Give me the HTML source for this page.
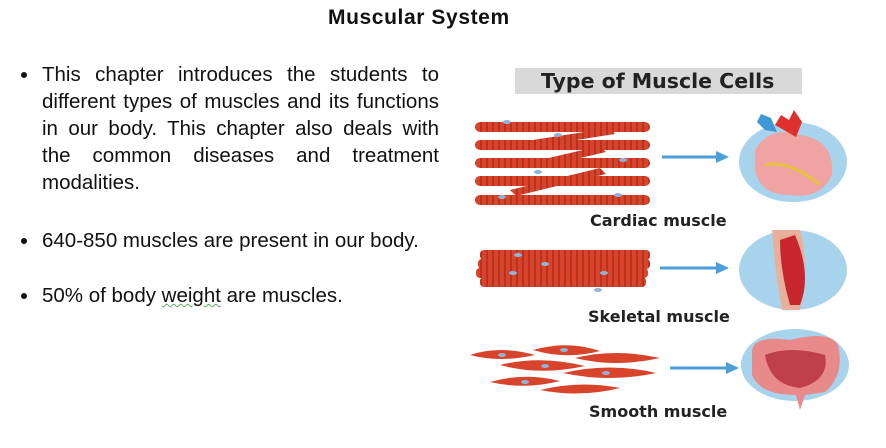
<!DOCTYPE html>
<html><head><meta charset="utf-8"><style>
body{margin:0;width:886px;height:448px;background:#fff;overflow:hidden;font-family:"Liberation Sans",Arial,sans-serif;position:relative}
.t{position:absolute;left:328px;top:6px;font-size:21px;letter-spacing:0.6px;font-weight:bold;color:#111;white-space:nowrap}
.b{position:absolute;left:42px;width:397px;font-size:20.5px;line-height:27px;color:#111}
.b:before{content:"";position:absolute;left:-21px;top:11px;width:6px;height:6px;border-radius:50%;background:#111}
.j{text-align:justify;text-align-last:justify;white-space:nowrap;height:27px}
.lb{position:absolute;font-size:16px;font-weight:bold;color:#222;white-space:nowrap;font-family:"DejaVu Sans",sans-serif}
</style></head><body>
<div class="t">Muscular System</div>
<div class="b" style="top:61px"><div class="j">This chapter introduces the students to</div><div class="j">different types of muscles and its functions</div><div class="j">in our body. This chapter also deals with</div><div class="j">the common diseases and treatment</div><div>modalities.</div></div>
<div class="b" style="top:227px">640-850 muscles are present in our body.</div>
<div class="b" style="top:282px">50% of body <span style="text-decoration:underline wavy #6a6;text-decoration-thickness:1px">weight</span> are muscles.</div>
<div style="position:absolute;left:515px;top:68px;width:287px;height:26px;background:#d9d9d9"></div>
<div class="lb" style="left:541px;top:69px;font-size:20.5px;color:#222">Type of Muscle Cells</div>
<svg style="position:absolute;left:0;top:0" width="886" height="448">
<defs>
<pattern id="st" width="6" height="10" patternUnits="userSpaceOnUse"><rect width="6" height="10" fill="#d8432c"/><rect width="2" height="10" fill="#b83220"/></pattern>
</defs>
<g fill="url(#st)">
<rect x="475" y="122" width="175" height="10" rx="5"/>
<rect x="475" y="140" width="175" height="10" rx="5"/>
<rect x="475" y="158" width="175" height="10" rx="5"/>
<rect x="475" y="176" width="175" height="10" rx="5"/>
<rect x="475" y="195" width="175" height="10" rx="5"/>
<polygon points="520,142 610,128 615,134 525,148"/>
<polygon points="540,160 600,146 606,152 546,166"/>
<polygon points="510,190 600,168 606,174 516,196"/>
<rect x="480" y="250" width="170" height="10" rx="4"/>
<rect x="478" y="259" width="172" height="10" rx="4"/>
<rect x="476" y="268" width="172" height="10" rx="4"/>
<rect x="480" y="277" width="166" height="10" rx="4"/>
</g>
<g fill="#d8432c">
<path d="M470,355 Q500,345 535,355 Q500,363 470,355Z"/>
<path d="M533,350 Q568,340 600,351 Q566,360 533,350Z"/>
<path d="M575,358 Q615,348 660,358 Q615,368 575,358Z"/>
<path d="M500,365 Q540,355 585,366 Q540,376 500,365Z"/>
<path d="M563,373 Q610,362 656,373 Q610,383 563,373Z"/>
<path d="M490,382 Q525,372 560,381 Q525,390 490,382Z"/>
<path d="M540,390 Q580,380 620,388 Q580,398 540,390Z"/>
</g>
<g fill="#8fb4d8"><ellipse cx="507" cy="122" rx="4" ry="2"/><ellipse cx="558" cy="135" rx="4" ry="2"/><ellipse cx="538" cy="172" rx="4" ry="2"/><ellipse cx="623" cy="160" rx="4" ry="2"/><ellipse cx="502" cy="197" rx="4" ry="2"/><ellipse cx="618" cy="195" rx="4" ry="2"/>
<ellipse cx="518" cy="255" rx="4" ry="2"/><ellipse cx="545" cy="264" rx="4" ry="2"/><ellipse cx="513" cy="273" rx="4" ry="2"/><ellipse cx="604" cy="273" rx="4" ry="2"/><ellipse cx="598" cy="290" rx="4" ry="2"/>
<ellipse cx="502" cy="355" rx="4" ry="2"/><ellipse cx="564" cy="350" rx="4" ry="2"/><ellipse cx="545" cy="366" rx="4" ry="2"/><ellipse cx="606" cy="373" rx="4" ry="2"/><ellipse cx="525" cy="382" rx="4" ry="2"/></g>
<g stroke="#4a9fd8" stroke-width="3" fill="#4a9fd8">
<line x1="662" y1="157" x2="718" y2="157"/><polygon points="716,151 729,157 716,163" stroke="none"/>
<line x1="660" y1="268" x2="718" y2="268"/><polygon points="716,262 729,268 716,274" stroke="none"/>
<line x1="670" y1="368" x2="728" y2="368"/><polygon points="726,362 739,368 726,374" stroke="none"/>
</g>
<ellipse cx="793" cy="162" rx="54" ry="40" fill="#a7d3ec"/>
<path d="M755,150 Q770,125 800,135 Q835,140 832,175 Q820,200 790,195 Q760,195 755,170Z" fill="#f0a3a3"/>
<path d="M775,125 l6,-10 l8,5 l5,-10 l8,12 l-6,15 Z" fill="#e0302d"/>
<path d="M765,130 l-8,-8 l4,-8 l10,4 l6,14z" fill="#3f97d6"/>
<path d="M765,165 Q790,160 820,185" stroke="#e8c13d" stroke-width="3" fill="none"/>
<ellipse cx="793" cy="270" rx="54" ry="40" fill="#a7d3ec"/>
<path d="M772,230 L800,230 Q810,270 800,310 L782,310 Q775,270 772,230Z" fill="#e8b09a"/>
<path d="M780,240 L795,235 Q812,275 800,305 L790,305 Q780,270 780,240Z" fill="#c7262c"/>
<ellipse cx="795" cy="365" rx="54" ry="36" fill="#a7d3ec"/>
<path d="M752,350 Q755,335 790,340 Q830,330 838,345 Q845,375 825,392 L805,395 L800,410 L796,395 Q760,395 752,375Z" fill="#e98a8a"/>
<path d="M765,355 Q790,345 825,355 Q830,380 800,388 Q770,385 765,355Z" fill="#c0404a"/>
</svg>
<div class="lb" style="left:590px;top:211px">Cardiac muscle</div>
<div class="lb" style="left:588px;top:307px">Skeletal muscle</div>
<div class="lb" style="left:589px;top:402px">Smooth muscle</div>
</body></html>
